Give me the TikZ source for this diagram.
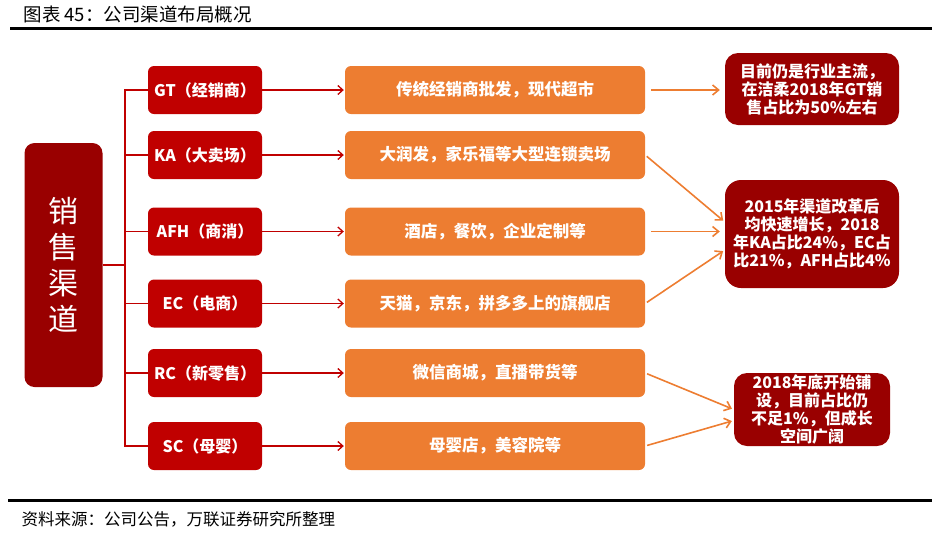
\documentclass[tikz,border=0pt]{standalone}
\usepackage{fontspec}
\setmainfont{Noto Sans CJK SC}
\usepackage{xcolor}
\usepackage{tikz}
\usetikzlibrary{shapes.geometric, arrows.meta}
\definecolor{darkred}{HTML}{990000}
\definecolor{chanred}{HTML}{C00000}
\definecolor{descorange}{HTML}{ED7D31}
\tikzstyle{chanbox} = [rectangle, rounded corners=6pt, fill=chanred, text=white, minimum width=114pt, minimum height=48pt, font=\bfseries\fontsize{16}{18}\selectfont]
\tikzstyle{descbox} = [rectangle, rounded corners=6pt, fill=descorange, text=white, minimum width=300pt, minimum height=48pt, font=\bfseries\fontsize{16.5}{18}\selectfont]
\tikzstyle{notebox} = [rectangle, rounded corners=13pt, fill=darkred, text=white, align=center, inner sep=0pt, font=\bfseries\fontsize{16}{18}\selectfont]
\tikzstyle{redarrow} = [line width=1.3pt, chanred, -{Straight Barb[length=5pt,width=9pt]}]
\tikzstyle{orangearrow} = [line width=1.6pt, descorange, -{Straight Barb[length=6pt,width=10pt]}]

\begin{document}
\begin{tikzpicture}[x=1pt,y=-1pt]
	\useasboundingbox (0,0) rectangle (951,539);
	
	% Title and rules:
	\node [anchor=west, font=\fontsize{18.5}{20}\selectfont] (title) at (20,14) {图表 45：公司渠道布局概况};
	\draw [line width=3pt] (10,28) -- (932,28);
	\draw [line width=3pt] (8,500) -- (932,500);
	\node [anchor=west, font=\fontsize{16.5}{19}\selectfont] (source) at (18,519) {资料来源：公司公告，万联证券研究所整理};
	
	% Main box:
	\node [rectangle, rounded corners=10pt, fill=darkred, text=white, minimum width=78pt, minimum height=244pt, align=center, font=\fontsize{30}{36}\selectfont] (sales) at (63.5,265) {销\\售\\渠\\道};
	\coordinate (trunk) at (125,265);
	\draw [line width=1.3pt, chanred] (sales) -- (trunk);
	
	% Channels:
	% Each row gets a red box, an orange box and a red arrow between them
	\foreach \n/\y/\chan/\desc in {gt/90/GT（经销商）/传统经销商批发，现代超市,
		ka/155/KA（大卖场）/大润发，家乐福等大型连锁卖场,
		afh/231.5/AFH（商消）/酒店，餐饮，企业定制等,
		ec/303.5/EC（电商）/天猫，京东，拼多多上的旗舰店,
		rc/373/RC（新零售）/微信商城，直播带货等,
		sc/446/SC（母婴）/母婴店，美容院等}{%
		\node [chanbox] (chan-\n) at (205,\y) {\chan};
		\node [descbox] (desc-\n) at (495,\y) {\desc};
		\draw [line width=1.3pt, chanred] (trunk) |- (chan-\n.west);
		\draw [redarrow, shorten >=1pt] (chan-\n) -- (desc-\n);
	}
	
	% Notes on the right:
	\node [notebox, minimum width=174pt, minimum height=72pt] (note1) at (812,89) {目前仍是行业主流，\\在洁柔2018年GT销\\售占比为50\%左右};
	\node [notebox, minimum width=174pt, minimum height=108pt, rounded corners=16pt] (note2) at (812,234) {2015年渠道改革后\\均快速增长，2018\\年KA占比24\%，EC占\\比21\%，AFH占比4\%};
	\node [notebox, minimum width=156pt, minimum height=73pt] (note3) at (812,409.5) {2018年底开始铺\\设，目前占比仍\\不足1\%，但成长\\空间广阔};
	
	\draw [orangearrow, shorten <=6pt, shorten >=5pt] (desc-gt.east) -- (note1.west |- desc-gt.east);
	\draw [orangearrow, shorten <=2pt, shorten >=2pt] (desc-ka.east) -- ([yshift=12pt]note2.west);
	\draw [orangearrow, shorten <=6pt, shorten >=5pt] (desc-afh.east) -- (note2.west |- desc-afh.east);
	\draw [orangearrow, shorten <=2pt, shorten >=2pt] (desc-ec.east) -- ([yshift=-16pt]note2.west);
	\draw [orangearrow, shorten <=2pt, shorten >=2pt] (desc-rc.east) -- (note3.west);
	\draw [orangearrow, shorten <=2pt, shorten >=2pt] (desc-sc.east) -- ([yshift=-11pt]note3.west);
\end{tikzpicture}
\end{document}
